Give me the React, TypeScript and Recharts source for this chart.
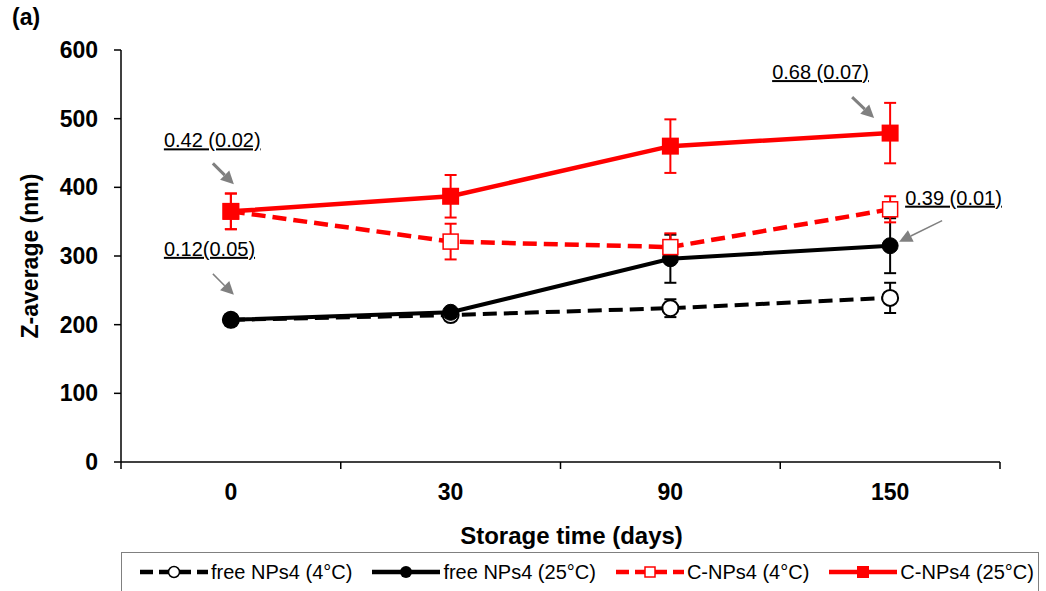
import React from 'react';
import {
  ComposedChart,
  Line,
  XAxis,
  YAxis,
  ErrorBar,
  ReferenceDot,
} from 'recharts';

const days = ['0', '30', '90', '150'];

const free4 = [207, 214, 224, 239];
const free4Err = [8, 6, 13, 22];
const free25 = [207, 218, 296, 315];
const free25Err = [8, 5, 35, 40];
const cnp4 = [365, 321, 313, 368];
const cnp4Err = [26, 26, 20, 19];
const cnp25 = [365, 387, 460, 479];
const cnp25Err = [26, 31, 39, 44];

const yTicks = [0, 100, 200, 300, 400, 500, 600];

const seriesNames = ['free NPs4 (4°C)', 'free NPs4 (25°C)', 'C-NPs4 (4°C)', 'C-NPs4 (25°C)'];

// PDI annotations: text, series key, day
const notes = [
  { text: '0.42 (0.02)', day: '0', key: 'cnp25', tx: -67, ty: -64, ax1: -18, ay1: -48, ax2: 3, ay2: -27, thin: false },
  { text: '0.12(0.05)', day: '0', key: 'free25', tx: -67, ty: -64, ax1: -18, ay1: -46, ax2: 3, ay2: -25, thin: true },
  { text: '0.68 (0.07)', day: '150', key: 'cnp25', tx: -118, ty: -54, ax1: -38, ay1: -36, ax2: -16, ay2: -15, thin: false },
  { text: '0.39 (0.01)', day: '150', key: 'free25', tx: 15, ty: -41, ax1: 52, ay1: -25, ax2: 9, ay2: -4, thin: true },
];

const data = days.map((d, i) => ({
  day: d,
  free4: free4[i],
  free4Err: free4Err[i],
  free25: free25[i],
  free25Err: free25Err[i],
  cnp4: cnp4[i],
  cnp4Err: cnp4Err[i],
  cnp25: cnp25[i],
  cnp25Err: cnp25Err[i],
}));

const FONT = "Arial, 'Liberation Sans', sans-serif";
const RED = '#ff0000';
const GREY = '#808080';

const HollowCircle = (p: any) => {
  if (p.cx == null) return null;
  return <circle key={p.key} cx={p.cx} cy={p.cy} r={8} fill="#fff" stroke="#000" strokeWidth={2} />;
};
const FilledCircle = (p: any) => {
  if (p.cx == null) return null;
  return <circle key={p.key} cx={p.cx} cy={p.cy} r={8} fill="#000" stroke="#000" strokeWidth={1} />;
};
const HollowSquare = (p: any) => {
  if (p.cx == null) return null;
  return <rect key={p.key} x={p.cx - 7.5} y={p.cy - 7.5} width={15} height={15} fill="#fff" stroke={RED} strokeWidth={1.5} />;
};
const FilledSquare = (p: any) => {
  if (p.cx == null) return null;
  return <rect key={p.key} x={p.cx - 8.5} y={p.cy - 8.5} width={17} height={17} fill={RED} />;
};

const XTick = (p: any) => {
  const { x, y, payload, index } = p;
  const half = payload.offset || 0;
  const axisY = y - 9;
  return (
    <g>
      <line x1={x - half} y1={axisY} x2={x - half} y2={axisY + 7} stroke="#000" strokeWidth={1.5} />
      {index === days.length - 1 && (
        <line x1={x + half} y1={axisY} x2={x + half} y2={axisY + 7} stroke="#000" strokeWidth={1.5} />
      )}
      <text x={x} y={y + 29} textAnchor="middle" fontFamily={FONT} fontWeight="bold" fontSize={23} fill="#000">
        {payload.value}
      </text>
    </g>
  );
};

const Note = ({ cx, cy, n }: any) => {
  if (cx == null) return null;
  const x1 = cx + n.ax1, y1 = cy + n.ay1, x2 = cx + n.ax2, y2 = cy + n.ay2;
  const dx = x2 - x1, dy = y2 - y1;
  const len = Math.sqrt(dx * dx + dy * dy);
  const ux = dx / len, uy = dy / len;
  const hl = 13, hw = 6.5;
  const bx = x2 - ux * hl, by = y2 - uy * hl;
  const head = `${x2},${y2} ${bx - uy * hw},${by + ux * hw} ${bx + uy * hw},${by - ux * hw}`;
  return (
    <g>
      <text
        x={cx + n.tx}
        y={cy + n.ty}
        fontFamily={FONT}
        fontSize={20}
        fill="#000"
        style={{ textDecoration: 'underline' }}
      >
        {n.text}
      </text>
      <line x1={x1} y1={y1} x2={bx} y2={by} stroke={GREY} strokeWidth={n.thin ? 1.5 : 3} />
      <polygon points={head} fill={GREY} />
    </g>
  );
};

const LegendSample = ({ idx }: { idx: number }) => {
  const dashed = idx === 0 || idx === 2;
  const color = idx < 2 ? '#000' : RED;
  const m = 34;
  return (
    <svg width={68} height={20} style={{ display: 'block' }}>
      <line
        x1={0}
        y1={10}
        x2={68}
        y2={10}
        stroke={color}
        strokeWidth={4.5}
        strokeDasharray={dashed ? '13 6' : undefined}
      />
      {idx === 0 && <circle cx={m} cy={10} r={5.5} fill="#fff" stroke="#000" strokeWidth={1.5} />}
      {idx === 1 && <circle cx={m} cy={10} r={6} fill="#000" />}
      {idx === 2 && <rect x={m - 5} y={5} width={10} height={10} fill="#fff" stroke={RED} strokeWidth={1.5} />}
      {idx === 3 && <rect x={m - 6} y={4} width={12} height={12} fill={RED} />}
    </svg>
  );
};

export default function App() {
  return (
    <div style={{ position: 'absolute', left: 0, top: 0, width: 1046, height: 591, background: '#fff', overflow: 'hidden' }}>
      <div style={{ position: 'absolute', left: 12, top: 4, fontFamily: FONT, fontWeight: 'bold', fontSize: 23 }}>(a)</div>
      <ComposedChart width={1046} height={591} data={data} margin={{ top: 50, right: 46, left: 61, bottom: 99 }}>
        <XAxis
          dataKey="day"
          xAxisId="top"
          orientation="top"
          scale="band"
          height={0}
          tick={false}
          tickLine={false}
          axisLine={{ stroke: GREY, strokeWidth: 2 }}
        />
        <YAxis
          yAxisId="right"
          orientation="right"
          width={0}
          domain={[0, 600]}
          tick={false}
          tickLine={false}
          axisLine={{ stroke: GREY, strokeWidth: 2 }}
        />
        <XAxis
          dataKey="day"
          scale="band"
          height={30}
          tickLine={false}
          tickSize={7}
          tickMargin={2}
          axisLine={{ stroke: '#000', strokeWidth: 1.5 }}
          tick={<XTick />}
          interval={0}
          label={{
            content: ({ viewBox }: any) => (
              <text
                x={viewBox.x + viewBox.width / 2 + 11}
                y={viewBox.y + 82}
                textAnchor="middle"
                fontFamily={FONT}
                fontWeight="bold"
                fontSize={24}
                fill="#000"
              >
                Storage time (days)
              </text>
            ),
          }}
        />
        <YAxis
          width={60}
          domain={[0, 600]}
          ticks={yTicks}
          interval={0}
          tickSize={7}
          tickMargin={16}
          axisLine={{ stroke: '#000', strokeWidth: 1.5 }}
          tickLine={{ stroke: '#000', strokeWidth: 1.5 }}
          tick={{ fill: '#000', fontFamily: FONT, fontWeight: 'bold', fontSize: 23 }}
          label={{
            content: ({ viewBox }: any) => {
              const cx = 30;
              const cy = viewBox.y + viewBox.height / 2;
              return (
                <text
                  x={cx}
                  y={cy}
                  transform={`rotate(-90 ${cx} ${cy})`}
                  textAnchor="middle"
                  dominantBaseline="central"
                  fontFamily={FONT}
                  fontWeight="bold"
                  fontSize={23}
                  fill="#000"
                >
                  Z-average (nm)
                </text>
              );
            },
          }}
        />
        <Line
          dataKey="free4"
          stroke="#000"
          strokeWidth={4}
          strokeDasharray="14 7"
          dot={HollowCircle}
          activeDot={false}
          isAnimationActive={false}
        >
          <ErrorBar dataKey="free4Err" direction="y" width={6} stroke="#000" strokeWidth={2} />
        </Line>
        <Line
          dataKey="free25"
          stroke="#000"
          strokeWidth={4}
          dot={FilledCircle}
          activeDot={false}
          isAnimationActive={false}
        >
          <ErrorBar dataKey="free25Err" direction="y" width={6} stroke="#000" strokeWidth={2} />
        </Line>
        <Line
          dataKey="cnp4"
          stroke={RED}
          strokeWidth={4.5}
          strokeDasharray="14 7"
          dot={HollowSquare}
          activeDot={false}
          isAnimationActive={false}
        >
          <ErrorBar dataKey="cnp4Err" direction="y" width={6} stroke={RED} strokeWidth={2} />
        </Line>
        <Line
          dataKey="cnp25"
          stroke={RED}
          strokeWidth={4.5}
          dot={FilledSquare}
          activeDot={false}
          isAnimationActive={false}
        >
          <ErrorBar dataKey="cnp25Err" direction="y" width={6} stroke={RED} strokeWidth={2} />
        </Line>
        {notes.map((n, i) => {
          const row: any = data.find((r) => r.day === n.day);
          return (
            <ReferenceDot
              key={i}
              x={n.day}
              y={row[n.key]}
              r={0}
              shape={(p: any) => <Note cx={p.cx} cy={p.cy} n={n} />}
            />
          );
        })}
      </ComposedChart>
      <div
        style={{
          position: 'absolute',
          left: 121,
          top: 552,
          width: 918,
          height: 50,
          border: `1.5px solid ${GREY}`,
          boxSizing: 'border-box',
          display: 'flex',
          alignItems: 'center',
          paddingLeft: 18,
          paddingBottom: 10,
          fontFamily: FONT,
          fontSize: 20,
          color: '#000',
        }}
      >
        {seriesNames.map((name, i) => (
          <div key={name} style={{ display: 'flex', alignItems: 'center', marginRight: 20 }}>
            <LegendSample idx={i} />
            <span style={{ marginLeft: 3, whiteSpace: 'nowrap' }}>{name}</span>
          </div>
        ))}
      </div>
    </div>
  );
}
